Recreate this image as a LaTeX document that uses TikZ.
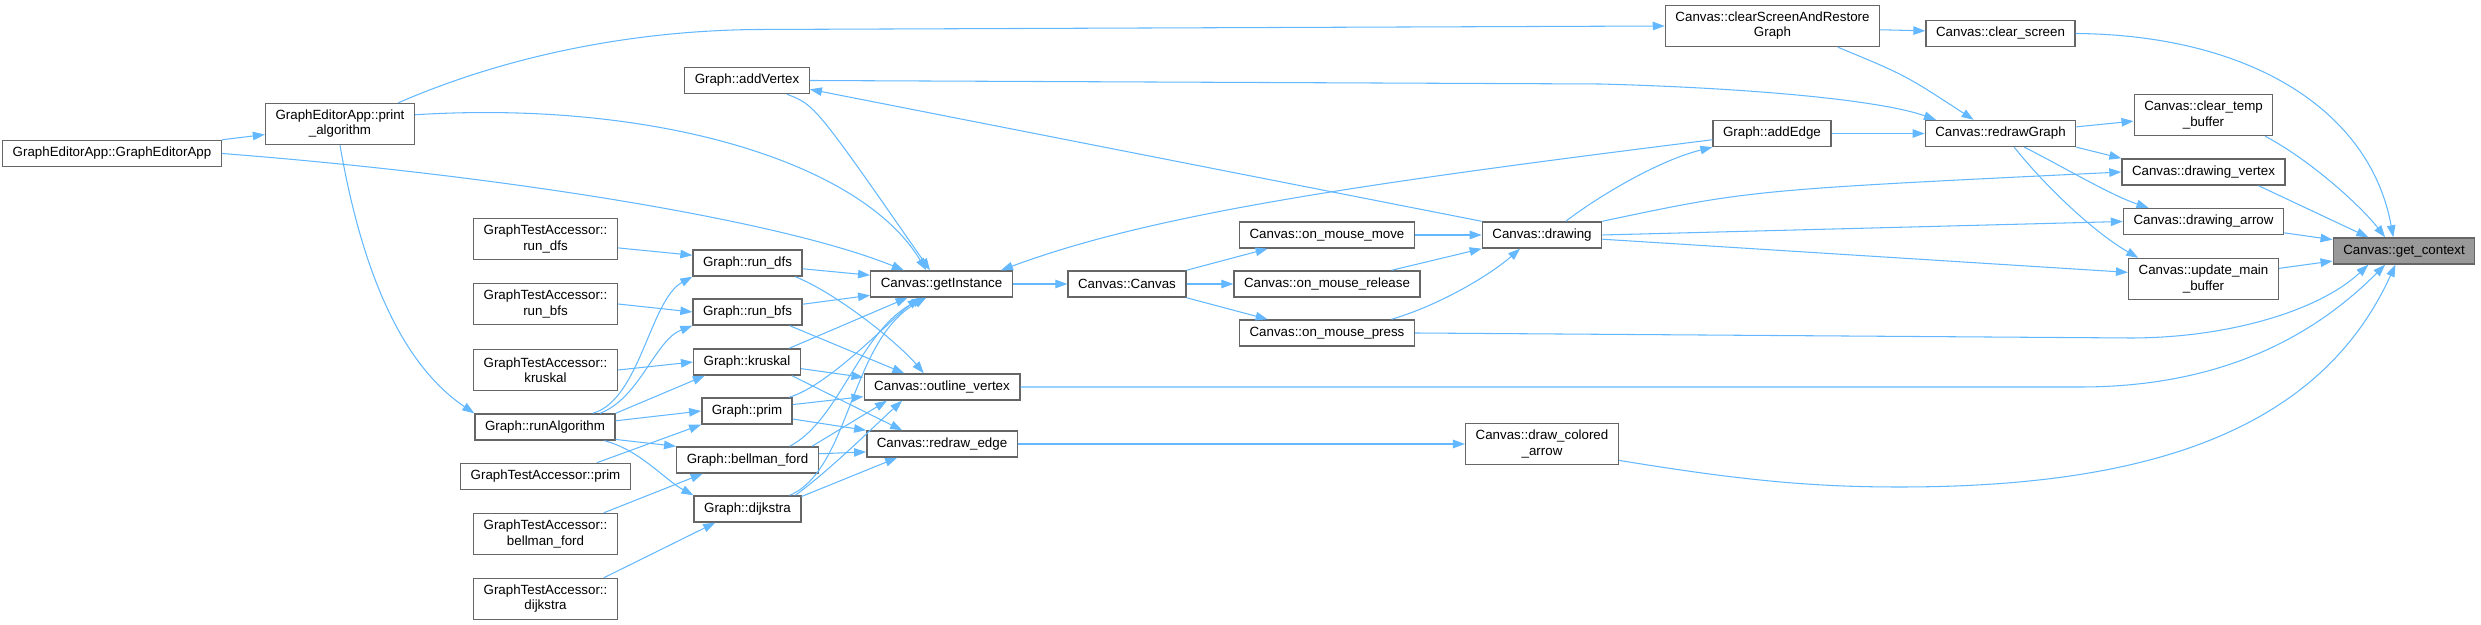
\documentclass[tikz,border=0pt]{standalone}
\usepackage{fontspec}
\setmainfont{Liberation Sans}
\usetikzlibrary{arrows.meta}
\definecolor{edgeblue}{HTML}{63B8FF}
\definecolor{boxline}{HTML}{666666}
\definecolor{focusfill}{HTML}{999999}
\tikzset {
  >={Triangle[length=1.2mm,width=0.85mm]},
  every node/.style={font=\fontsize{3.79pt}{4.27pt}\selectfont},
  fn/.style={draw=boxline,line width=0.4pt,fill=white,minimum height=2.6mm,
    inner xsep=1mm,inner ysep=0.3mm},
  fntwo/.style={fn,minimum height=4.1mm,align=center},
  focus/.style={fn,fill=focusfill},
  call/.style={->,draw=edgeblue,line width=0.3pt},
}

\begin{document}
\begin{tikzpicture}[x=0.01cm,y=-0.01cm]
      \useasboundingbox (0,0) rectangle (2481,625);
      \node[fn] (gea) at (112,153.5) {GraphEditorApp::GraphEditorApp};
      \node[fntwo] (pa) at (340,124) {GraphEditorApp::print\\\_algorithm};
      \node[fn] (addv) at (747,80.5) {Graph::addVertex};
      \node[fntwo] (tdfs) at (545.5,239) {GraphTestAccessor::\\run\_dfs};
      \node[fntwo] (tbfs) at (545.5,304) {GraphTestAccessor::\\run\_bfs};
      \node[fntwo] (tkru) at (545.5,370) {GraphTestAccessor::\\kruskal};
      \node[fn] (ralg) at (545,427) {Graph::runAlgorithm};
      \node[fn] (tprim) at (545.5,476.5) {GraphTestAccessor::prim};
      \node[fntwo] (tbf) at (545.5,534) {GraphTestAccessor::\\bellman\_ford};
      \node[fntwo] (tdij) at (545.5,599) {GraphTestAccessor::\\dijkstra};
      \node[fn] (dfs) at (747.5,263) {Graph::run\_dfs};
      \node[fn] (bfs) at (747.5,312) {Graph::run\_bfs};
      \node[fn] (kru) at (747,362) {Graph::kruskal};
      \node[fn] (prim) at (747,411) {Graph::prim};
      \node[fn] (bf) at (747.5,460) {Graph::bellman\_ford};
      \node[fn] (dij) at (747.5,509) {Graph::dijkstra};
      \node[fn] (inst) at (941.5,284) {Canvas::getInstance};
      \node[fn] (outv) at (942,387) {Canvas::outline\_vertex};
      \node[fn] (redge) at (942,444) {Canvas::redraw\_edge};
      \node[fn] (ctor) at (1127,284) {Canvas::Canvas};
      \node[fn] (move) at (1327,235) {Canvas::on\_mouse\_move};
      \node[fn] (rel) at (1327,284) {Canvas::on\_mouse\_release};
      \node[fn] (press) at (1327,333) {Canvas::on\_mouse\_press};
      \node[fn] (drw) at (1542,235) {Canvas::drawing};
      \node[fntwo] (dca) at (1542,444) {Canvas::draw\_colored\\\_arrow};
      \node[fntwo] (csr) at (1772.5,26) {Canvas::clearScreenAndRestore\\Graph};
      \node[fn] (adde) at (1772,133.5) {Graph::addEdge};
      \node[fn] (clrs) at (2000.5,33.5) {Canvas::clear\_screen};
      \node[fn] (rgr) at (2000.5,133.5) {Canvas::redrawGraph};
      \node[fntwo] (ctb) at (2203.5,115) {Canvas::clear\_temp\\\_buffer};
      \node[fn] (dv) at (2203.5,172) {Canvas::drawing\_vertex};
      \node[fn] (da) at (2203.5,221.5) {Canvas::drawing\_arrow};
      \node[fntwo] (umb) at (2203.5,279) {Canvas::update\_main\\\_buffer};
      \node[focus] (ctx) at (2404,251) {Canvas::get\_context};

      \draw[call] (gea.north east) -- (pa.188);
      \draw[call] (gea.east) .. controls (500,175) and (780,220) .. (inst.160);
      \draw[call] (pa.7) .. controls (650,100) and (860,160) .. (inst.138);
      \draw[call] (pa.20) .. controls (520,50) and (650,30) .. (760,29.5) -- (csr.west);
      \draw[call] (pa.south) .. controls (365,290) and (410,370) .. (ralg.north west);
      \draw[call] (tdfs.353) -- (dfs.172);
      \draw[call] (tbfs.east) -- (bfs.west);
      \draw[call] (tkru.east) -- (kru.west);
      \draw[call] (ralg.5) -- (prim.west);
      \draw[call] (ralg.16) .. controls (640,400) and (650,300) .. (dfs.south west);
      \draw[call] (ralg.14) .. controls (640,398) and (655,340) .. (bfs.south west);
      \draw[call] (ralg.north east) -- (kru.198);
      \draw[call] (ralg.350) -- (bf.north west);
      \draw[call] (ralg.347) .. controls (640,450) and (665,480) .. (dij.north west);
      \draw[call] (tprim.15) -- (prim.south west);
      \draw[call] (tbf.20) -- (bf.197);
      \draw[call] (tdij.20) -- (dij.203);

      \draw[call] (dfs.354) -- (inst.173);
      \draw[call] (dfs.344) .. controls (840,295) and (900,345) .. (outv.143);
      \draw[call] (bfs.8) -- (inst.189);
      \draw[call] (bfs.342) -- (outv.160);
      \draw[call] (kru.18) -- (inst.202);
      \draw[call] (kru.353) -- (outv.173);
      \draw[call] (kru.343) -- (redge.161);
      \draw[call] (prim.18) .. controls (830,385) and (890,320) .. (inst.212);
      \draw[call] (prim.8) -- (outv.187);
      \draw[call] (prim.350) -- (redge.north west);
      \draw[call] (bf.18) .. controls (840,420) and (860,330) .. (inst.218);
      \draw[call] (bf.12) -- (outv.194);
      \draw[call] (bf.5) -- (redge.186);
      \draw[call] (dij.18) .. controls (850,470) and (850,340) .. (inst.222);
      \draw[call] (dij.16) .. controls (830,470) and (870,430) .. (outv.199);
      \draw[call] (dij.13) -- (redge.197);
      \draw[call] (addv.341) .. controls (815,105) .. (inst.130);

      \draw[call] (inst.east) -- (ctor.west);
      \draw[call] (ctor.13) -- (move.193);
      \draw[call] (ctor.east) -- (rel.west);
      \draw[call] (ctor.347) -- (press.167);
      \draw[call] (move.east) -- (drw.west);
      \draw[call] (rel.12) -- (drw.south west);
      \draw[call] (press.12) .. controls (1440,305) and (1490,275) .. (drw.212);
      \draw[call] (drw.north west) -- (addv.352);
      \draw[call] (adde.186) .. controls (1350,185) and (1150,215) .. (inst.13);
      \draw[call] (drw.30) .. controls (1600,195) and (1660,160) .. (adde.south west);
      \draw[call] (drw.north east) .. controls (1750,190) .. (dv.west);
      \draw[call] (drw.east) -- (da.west);
      \draw[call] (drw.356) -- (umb.175);
      \draw[call] (redge.east) -- (dca.west);

      \draw[call] (press.east) -- (2130,338) .. controls (2230,338) and (2320,310) .. (ctx.201);
      \draw[call] (outv.east) -- (2080,387) .. controls (2230,387) and (2320,330) .. (ctx.216);
      \draw[call] (dca.348) .. controls (1750,482) and (1820,487) .. (1900,487)
        .. controls (2150,487) and (2320,430) .. (ctx.238);
      \draw[call] (clrs.east) .. controls (2250,35) and (2370,110) .. (ctx.128);
      \draw[call] (ctb.341) .. controls (2310,160) and (2360,205) .. (ctx.144);
      \draw[call] (dv.346) -- (ctx.159);
      \draw[call] (da.352) -- (ctx.171);
      \draw[call] (umb.8) -- (ctx.188);

      \draw[call] (addv.east) -- (1600,84) .. controls (1750,88) and (1880,100) .. (rgr.168);
      \draw[call] (csr.342) .. controls (1905,75) .. (rgr.153);
      \draw[call] (csr.358) -- (clrs.178);
      \draw[call] (adde.east) -- (rgr.west);
      \draw[call] (rgr.5) -- (ctb.185);
      \draw[call] (rgr.south east) -- (dv.north west);
      \draw[call] (rgr.330) .. controls (2060,165) and (2110,195) .. (da.166);
      \draw[call] (rgr.315) .. controls (2040,180) and (2090,230) .. (umb.162);
    \end{tikzpicture}
\end{document}
